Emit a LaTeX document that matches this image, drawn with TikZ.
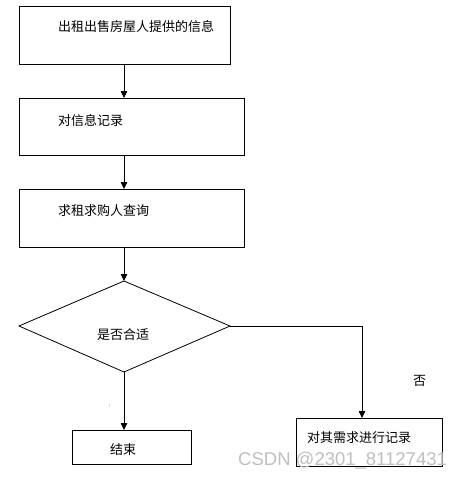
\documentclass[tikz,border=0pt]{standalone}
\usepackage{fontspec}
\newfontfamily\cjk{Noto Sans CJK SC}
\usetikzlibrary{arrows.meta}
\begin{document}
\begin{tikzpicture}[x=1pt,y=-1pt,
  box/.style={draw,line width=0.8pt},
  lbl/.style={anchor=west,inner sep=0pt,font=\cjk\fontsize{13}{15}\selectfont},
  conn/.style={draw,line width=0.8pt,-{Triangle[length=7pt,width=6.5pt]}}]
\useasboundingbox (0,0) rectangle (466,480);
\fill[white] (0,0) rectangle (466,480);
% boxes
\draw[box] (19,6) rectangle (230,64);
\coordinate (b1t) at (124,6); \coordinate (b1b) at (124,64);
\node[lbl] (t1) at (58,27) {出租出售房屋人提供的信息};
\draw[box] (19,98) rectangle (244,155);
\coordinate (b2t) at (124,98); \coordinate (b2b) at (124,155);
\node[lbl] (t2) at (58,121) {对信息记录};
\draw[box] (19,189) rectangle (244,247);
\coordinate (b3t) at (124,189); \coordinate (b3b) at (124,247);
\node[lbl] (t3) at (58,211) {求租求购人查询};
% diamond
\coordinate (dt) at (124,281);
\coordinate (dl) at (19,326);
\coordinate (dr) at (230,326);
\coordinate (db) at (124,372);
\draw[line width=0.8pt] (dt) -- (dr) -- (db) -- (dl) -- cycle;
\node[lbl] (t4) at (97,335) {是否合适};
% end box
\draw[box] (72,430) rectangle (191,464);
\coordinate (b4t) at (124,430);
\node[lbl] (t5) at (110,450) {结束};
% record box
\draw[box] (296,418) rectangle (442,466);
\coordinate (b5t) at (362,418);
\node[lbl] (t6) at (307,438) {对其需求进行记录};
% connectors
\draw[conn] (b1b) -- (b2t);
\draw[conn] (b2b) -- (b3t);
\draw[conn] (b3b) -- (dt);
\draw[conn] (db) -- (b4t);
\coordinate (corner) at (362,326);
\draw[conn] (dr) -- (corner) -- (b5t);
\node[lbl] (no) at (413,381) {否};
\node[anchor=center,inner sep=0pt,font=\fontsize{6}{6}\selectfont] (mk) at (110,406) {:};
% watermark
\node[anchor=west,inner sep=0pt,text=black!25,font=\fontsize{18.5}{20}\selectfont\fontspec{Liberation Sans}] (wm) at (238,461) {CSDN @2301\_81127431};
\end{tikzpicture}
\end{document}
